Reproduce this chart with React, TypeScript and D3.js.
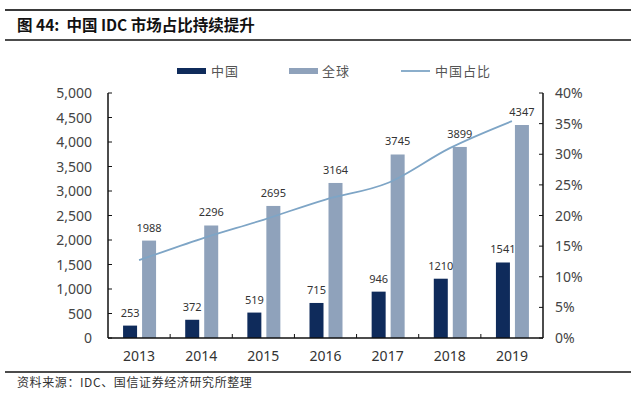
import * as d3 from 'd3'

const years = ['2013', '2014', '2015', '2016', '2017', '2018', '2019']
const china = [253, 372, 519, 715, 946, 1210, 1541]
const world = [1988, 2296, 2695, 3164, 3745, 3899, 4347]
const share = [12.7, 16.2, 19.3, 22.6, 25.3, 31.0, 35.4]
const leftTicks = [0, 500, 1000, 1500, 2000, 2500, 3000, 3500, 4000, 4500, 5000]
const rightTicks = [0, 5, 10, 15, 20, 25, 30, 35, 40]

const W = 640
const H = 402
const m = { left: 108, right: 543, top: 93, bottom: 338 }
const cn = '"Noto Sans CJK SC", "Noto Sans", sans-serif'
const num = '"Noto Sans", "Liberation Sans", sans-serif'
const darkBar = '#0f2b5b'
const lightBar = '#8fa2bb'
const lineColor = '#7ea5c6'

export default function App() {
  const x = d3.scaleBand().domain(years).range([m.left, m.right])
  const yL = d3.scaleLinear().domain([0, 5000]).range([m.bottom, m.top])
  const yR = d3.scaleLinear().domain([0, 40]).range([m.bottom, m.top])
  const bw = 14
  const cx = (d: string) => (x(d) as number) + x.bandwidth() / 2

  const line = d3.line<number>()
    .x((_, i) => cx(years[i]))
    .y(d => yR(d))
    .curve(d3.curveCardinal)

  return (
    <svg width={W} height={H} style={{ position: 'absolute', left: 0, top: 0, background: '#fff' }}>
      <line x1={5} x2={631} y1={10} y2={10} stroke="#3a3a3a" strokeWidth={2} />
      <text x={17} y={31} fontFamily={cn} fontWeight="bold" fontSize={15.5} fill="#111" style={{ whiteSpace: 'pre' }}>图 44:  中国 IDC 市场占比持续提升</text>
      <line x1={5} x2={631} y1={40} y2={40} stroke="#111" strokeWidth={1.5} />

      {/* legend */}
      <rect x={177} y={68} width={29} height={6} fill={darkBar} />
      <text x={211} y={76} fontFamily={cn} fontSize={13} fill="#555" letterSpacing={1}>中国</text>
      <rect x={289} y={68} width={29} height={6} fill={lightBar} />
      <text x={322} y={76} fontFamily={cn} fontSize={13} fill="#555" letterSpacing={1}>全球</text>
      <line x1={401} x2={430} y1={71} y2={71} stroke={lineColor} strokeWidth={1.8} />
      <text x={435} y={76} fontFamily={cn} fontSize={13} fill="#555" letterSpacing={1}>中国占比</text>

      {/* bars */}
      {years.map((yr, i) => (
        <g key={yr}>
          <rect x={cx(yr) - bw - 2} y={yL(china[i])} width={bw} height={m.bottom - yL(china[i])} fill={darkBar} />
          <rect x={cx(yr) + 3} y={yL(world[i])} width={bw} height={m.bottom - yL(world[i])} fill={lightBar} />
          <text x={cx(yr) - bw / 2 - 2} y={yL(china[i]) - 9} textAnchor="middle" fontFamily={num} fontSize={11} fill="#333">{china[i]}</text>
          <text x={cx(yr) + 3 + bw / 2} y={yL(world[i]) - 9} textAnchor="middle" fontFamily={num} fontSize={11} fill="#333">{world[i]}</text>
          <text x={cx(yr)} y={361} textAnchor="middle" fontFamily={num} fontSize={14} fill="#333">{yr}</text>
        </g>
      ))}

      <path d={line(share) as string} fill="none" stroke={lineColor} strokeWidth={1.8} />

      {/* axes */}
      <line x1={m.left} x2={m.left} y1={m.top} y2={m.bottom} stroke="#111" strokeWidth={1.5} />
      <line x1={m.right} x2={m.right} y1={m.top} y2={m.bottom} stroke="#111" strokeWidth={1.5} />
      <line x1={m.left} x2={m.right} y1={m.bottom} y2={m.bottom} stroke="#111" strokeWidth={1.5} />
      {leftTicks.map(t => (
        <g key={t}>
          <line x1={m.left} x2={m.left + 4} y1={yL(t)} y2={yL(t)} stroke="#111" />
          <text x={92} y={yL(t) + 5} textAnchor="end" fontFamily={num} fontSize={14} fill="#444">{d3.format(',')(t)}</text>
        </g>
      ))}
      {rightTicks.map(t => (
        <g key={t}>
          <line x1={m.right - 4} x2={m.right} y1={yR(t)} y2={yR(t)} stroke="#111" />
          <text x={555} y={yR(t) + 5} fontFamily={num} fontSize={14} fill="#444">{t}%</text>
        </g>
      ))}
      {years.slice(1).map(yr => (
        <line key={yr} x1={x(yr)} x2={x(yr)} y1={m.bottom} y2={m.bottom - 4} stroke="#111" />
      ))}

      <line x1={5} x2={631} y1={372} y2={372} stroke="#111" strokeWidth={1.5} />
      <text x={17} y={387} fontFamily={cn} fontSize={12} fill="#333" letterSpacing={0.6}>资料来源：IDC、国信证券经济研究所整理</text>
    </svg>
  )
}
